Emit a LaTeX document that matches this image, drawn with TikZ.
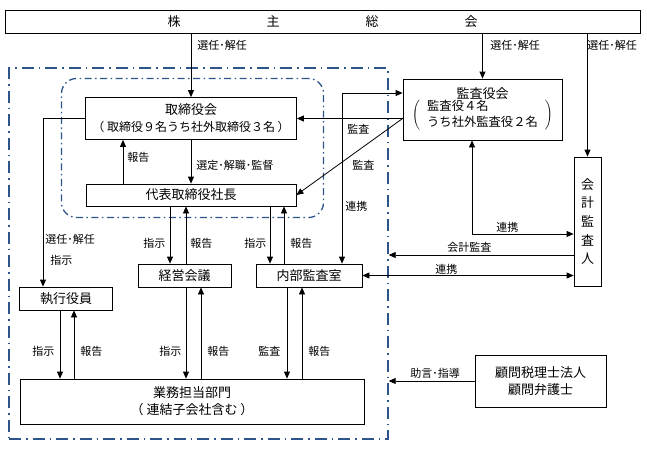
\documentclass[tikz,border=0pt]{standalone}
\usepackage{fontspec}
\setmainfont{Noto Sans CJK JP}
\usetikzlibrary{arrows.meta}
\definecolor{frameblue}{RGB}{46,84,140}

\begin{document}
\begin{tikzpicture}[x=1pt, y=-1pt, line width=0.8pt,
  box/.style={draw, inner sep=0pt, align=center, font=\fontsize{13}{17}\selectfont},
  lbl/.style={anchor=west, inner sep=0pt, font=\fontsize{11}{12}\selectfont},
  arr/.style={-{Triangle[length=7pt,width=6pt]}},
  arrs/.style={{Triangle[length=7pt,width=6pt]}-{Triangle[length=7pt,width=6pt]}},
  outerline/.style={draw=frameblue, line width=1.4pt, inner sep=0pt,
    dash pattern=on 12pt off 5pt on 1.5pt off 5pt},
  innerline/.style={draw=frameblue, line width=1.3pt, inner sep=0pt, rounded corners=15pt,
    dash pattern=on 7pt off 3.5pt on 1.5pt off 3.5pt}]
  \useasboundingbox (0,0) rectangle (647,450);

  % 枠
  \node[outerline, minimum width=379pt, minimum height=371pt] (group) at (198.5,253.5) {};
  \node[innerline, minimum width=262pt, minimum height=139pt] (board) at (192.5,148) {};

  % 各機関
  \node[box, minimum width=635pt, minimum height=23pt] (soukai) at (322.5,21.5)
    {株\hspace{86pt}主\hspace{86pt}総\hspace{86pt}会};
  \node[box, minimum width=211pt, minimum height=42pt] (torishimari) at (191,118.5)
    {取締役会\\{\fontsize{12}{17}\selectfont （ 取締役９名うち社外取締役３名 ）}};
  \node[box, minimum width=210pt, minimum height=22pt] (daihyo) at (191,195) {代表取締役社長};
  \node[box, minimum width=93pt, minimum height=23pt] (shikkou) at (66,298.5) {執行役員};
  \node[box, minimum width=93pt, minimum height=23pt] (keiei) at (184.5,275.5) {経営会議};
  \node[box, minimum width=106pt, minimum height=23pt] (naibu) at (309,275.5) {内部監査室};
  \node[box, minimum width=344pt, minimum height=45pt] (gyoumu) at (192,401.5)
    {業務担当部門\\（ 連結子会社含む ）};
  \node[box, minimum width=159pt, minimum height=61pt] (kansayaku) at (482.5,109.5)
    {監査役会\\[-2pt]
     {\fontsize{12.3}{16}\selectfont$\left(\hspace{7pt}\begin{tabular}{@{}l@{}}監査役４名\\うち社外監査役２名\end{tabular}\hspace{7pt}\right)$}};
  \node[box, minimum width=27pt, minimum height=129pt, font=\fontsize{13}{18.7}\selectfont]
    (kaikei) at (587.5,221.5) {会\\計\\監\\査\\人};
  \node[box, minimum width=131pt, minimum height=52pt] (komon) at (540.5,381)
    {顧問税理士法人\\顧問弁護士};

  % 株主総会から
  \draw[arr] (soukai.south -| torishimari.north) -- (torishimari.north);
  \draw[arr] (soukai.south -| kansayaku.north) -- (kansayaku.north);
  \draw[arr] (soukai.south -| kaikei.north) -- (kaikei.north);

  % 取締役会まわり
  \draw[arr] (torishimari.west) -| (shikkou.north -| 43,0);
  \draw[arr] (torishimari.south) -- (daihyo.north);
  \draw[arr] (daihyo.north -| 123,0) -- (torishimari.south -| 123,0);
  \draw[arr] (kansayaku.west |- torishimari.east) -- (torishimari.east);
  \draw[arr] (kansayaku.west |- torishimari.east) -- (daihyo.east);

  % 監査役会・会計監査人との連携
  \draw[arrs] (naibu.north -| 342,0) |- (kansayaku.west |- 0,93);
  \draw[arrs] (kansayaku.south -| 472,0) |- (kaikei.west |- 0,234);
  \draw[arr] (kaikei.west |- 0,255) -- (group.east |- 0,255);
  \draw[arrs] (naibu.east) -- (naibu.east -| kaikei.west);
  \draw[arr] (komon.west) -- (komon.west -| group.east);

  % 指示（下向き）と報告（上向き）
  \foreach \x/\a/\b in {170/daihyo.south/keiei.north, 270/daihyo.south/naibu.north,
      60/shikkou.south/gyoumu.north, 186/keiei.south/gyoumu.north, 287/naibu.south/gyoumu.north,
      186/keiei.north/daihyo.south, 284/naibu.north/daihyo.south,
      74/gyoumu.north/shikkou.south, 201/gyoumu.north/keiei.south, 302/gyoumu.north/naibu.south}
    \draw[arr] (\a -| \x,0) -- (\b -| \x,0);

  % ラベル
  \foreach \t/\x/\y [count=\i] in {選任･解任/197/45, 選任･解任/490/45, 選任･解任/587/45,
      報告/127/157, 選定･解職･監督/196/165, 監査/347/129, 監査/352/165, 連携/345/206,
      選任･解任/45/239, 指示/50/260,
      指示/143/243, 報告/190/243, 指示/244/243, 報告/290/243,
      連携/496/227, 会計監査/447/247, 連携/435/269,
      指示/32/351, 報告/80/351, 指示/159/351, 報告/207/351, 監査/258/351, 報告/308/351,
      助言･指導/410/373}
    \node[lbl] (lab\i) at (\x,\y) {\t};
\end{tikzpicture}
\end{document}
